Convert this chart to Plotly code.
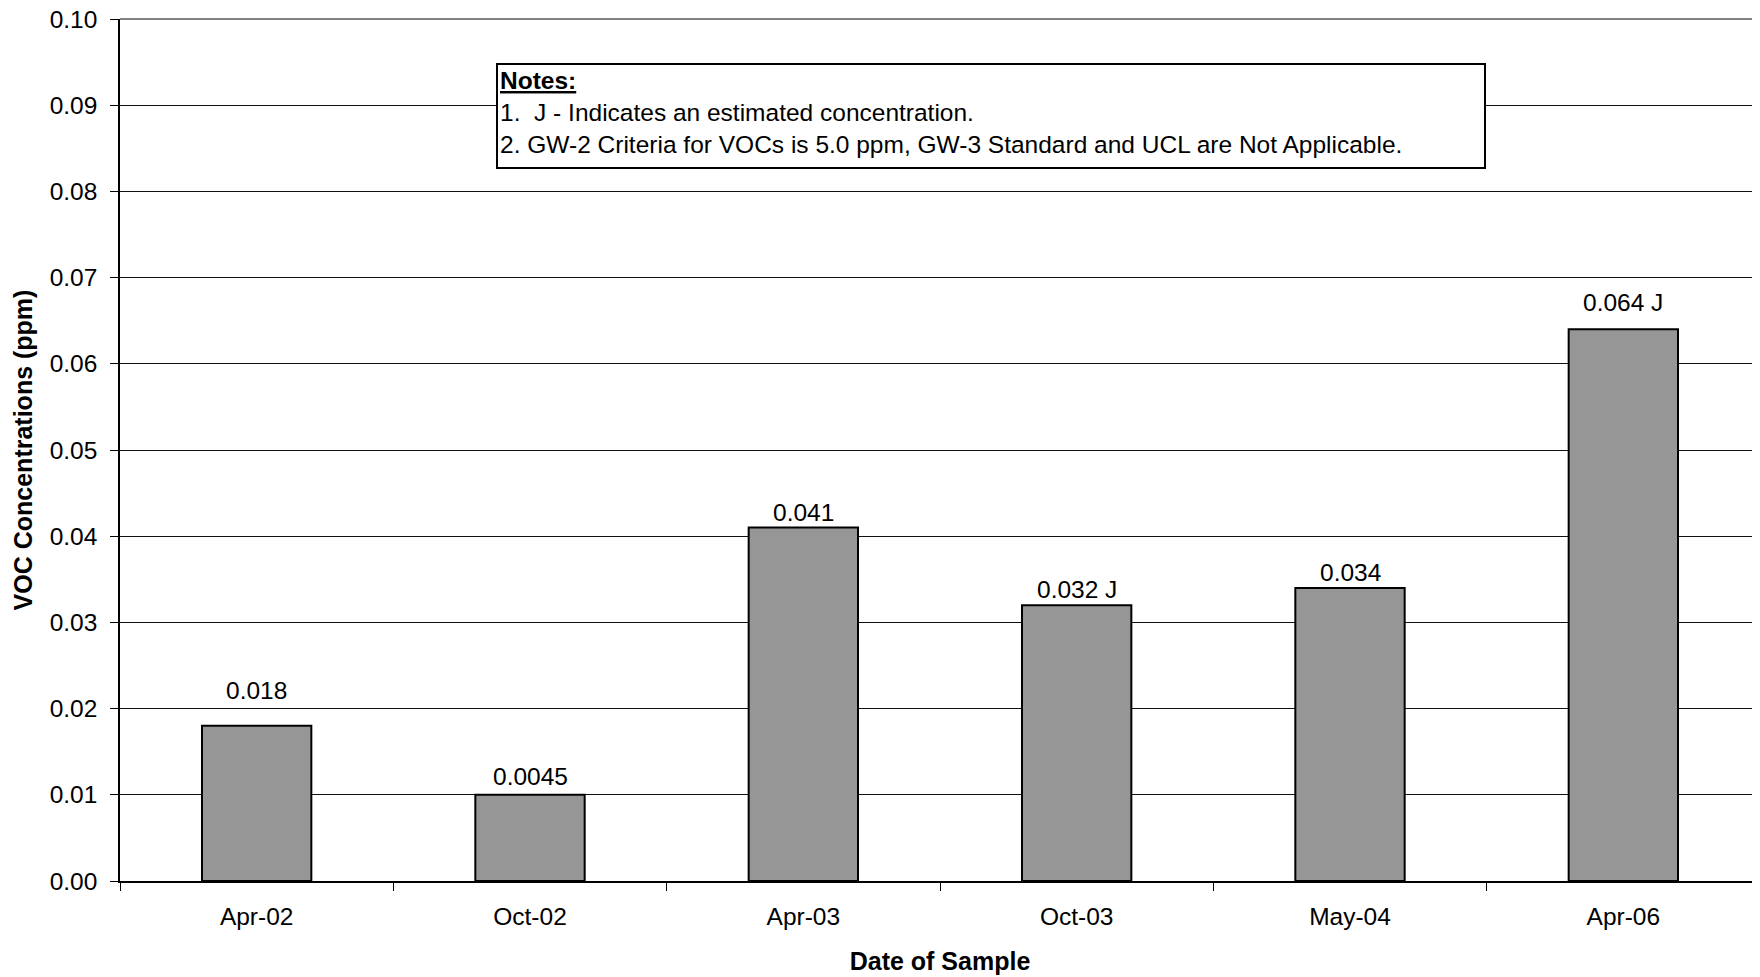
import plotly.graph_objects as go

# ---- data ----
categories = ["Apr-02", "Oct-02", "Apr-03", "Oct-03", "May-04", "Apr-06"]
bar_values = [0.018, 0.010, 0.041, 0.032, 0.034, 0.064]
bar_labels = ["0.018", "0.0045", "0.041", "0.032 J", "0.034", "0.064 J"]
y_ticks = [0.00, 0.01, 0.02, 0.03, 0.04, 0.05, 0.06, 0.07, 0.08, 0.09, 0.10]

# label vertical offsets (px above bar top, label centre)
label_shift = [35, 18, 15.5, 16, 15, 27]

FONT = "Liberation Sans, Arial, sans-serif"
W, H = 1760, 977
ML, MT, MB, MR = 112, 11, 104, 8
PW = W - ML - MR
PH = H - MT - MB

fig = go.Figure()
fig.add_trace(go.Bar(
    x=categories, y=bar_values,
    marker=dict(color="#969696", line=dict(color="black", width=2)),
    hoverinfo="skip",
))

for c, v, t, s in zip(categories, bar_values, bar_labels, label_shift):
    fig.add_annotation(x=c, y=v, text=t, showarrow=False, xanchor="center",
                       yanchor="middle", yshift=s,
                       font=dict(family=FONT, size=24.5, color="black"))

notes = ("<b><u>Notes:</u></b><br>"
         "1.  J - Indicates an estimated concentration.<br>"
         "2. GW-2 Criteria for VOCs is 5.0 ppm, GW-3 Standard and UCL are Not Applicable.")
fig.add_annotation(xref="paper", yref="paper", x=(496 - 8 - ML) / PW, y=1 - (63 - 8 - MT) / PH,
                   xanchor="left", yanchor="top", text=notes, showarrow=False,
                   align="left", valign="top", width=982, height=98,
                   bgcolor="white", bordercolor="black", borderwidth=2, borderpad=2,
                   font=dict(family=FONT, size=24.5, color="black"))

fig.update_layout(
    width=W, height=H,
    margin=dict(l=ML, r=MR, t=MT, b=MB, pad=0, autoexpand=False),
    paper_bgcolor="white", plot_bgcolor="white",
    bargap=0.6, showlegend=False,
    font=dict(family=FONT, size=24.5, color="black"),
    xaxis=dict(
        type="category", showgrid=False, showline=True, linecolor="black", linewidth=1.5,
        ticks="outside", ticklen=8, tickcolor="black", tickwidth=1, tickson="boundaries",
        ticklabelstandoff=13, automargin=False,
        title=dict(text="<b>Date of Sample</b>", font=dict(family=FONT, size=25), standoff=23),
        tickfont=dict(family=FONT, size=24.5),
    ),
    yaxis=dict(
        range=[0, 0.1], tickvals=y_ticks, tickformat=".2f",
        showgrid=True, gridcolor="#111111", gridwidth=1,
        showline=True, linecolor="black", linewidth=1.5,
        ticks="outside", ticklen=8, tickcolor="black", tickwidth=1,
        ticklabelstandoff=8, ticklabeloverflow="allow", zeroline=False, automargin=False,
        title=dict(text="<b>VOC Concentrations (ppm)</b>", font=dict(family=FONT, size=25), standoff=10),
        tickfont=dict(family=FONT, size=24.5),
    ),
)
fig.add_shape(type="line", xref="paper", yref="paper", x0=0, x1=1, y0=1, y1=1,
              line=dict(color="#808080", width=2), layer="above")

fig.write_html("out.html")
